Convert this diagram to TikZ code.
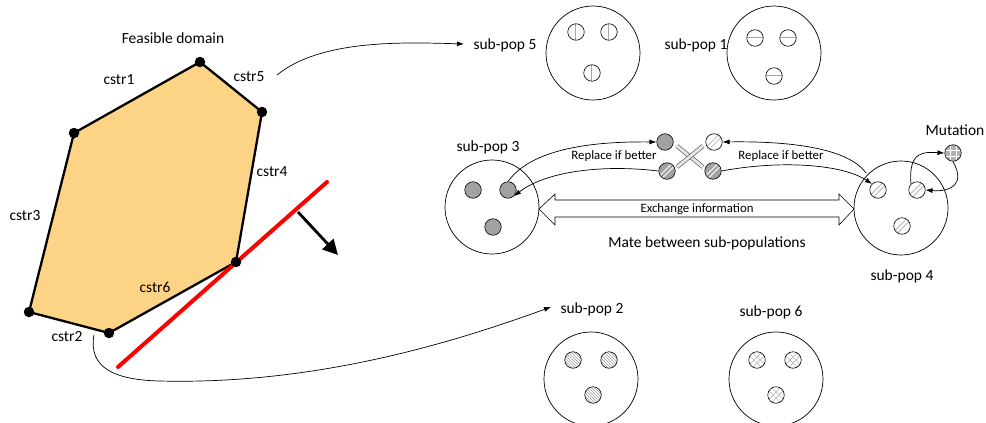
\documentclass[tikz,border=0pt]{standalone}
\usepackage{fontspec}
\setmainfont{Carlito}
\usetikzlibrary{arrows.meta,patterns}
\definecolor{domain}{HTML}{FDD385}
\tikzset{
  lbl/.style={font=\fontsize{15.5}{16}\selectfont, inner sep=0pt},
  small/.style={font=\fontsize{12.8}{13}\selectfont, inner sep=0pt},
  vtx/.style={circle, fill=black, minimum size=10.5pt, inner sep=0pt},
  pop/.style={circle, draw, line width=0.7pt, minimum size=#1, inner sep=0pt},
  pop/.default=94pt,
  ind/.style={circle, draw, line width=0.6pt, minimum size=16.5pt, inner sep=0pt},
  gfill/.style={fill=black!37},
  vbar/.style={path picture={\draw[gray!70, line width=1pt]
      ([xshift=-1pt]path picture bounding box.north) -- ([xshift=-1pt]path picture bounding box.south);}},
  hbar/.style={path picture={\draw[gray!70, line width=1pt]
      ([yshift=1pt]path picture bounding box.west) -- ([yshift=1pt]path picture bounding box.east);}},
  slash/.style={path picture={\foreach \o in {-2.5,2.5}
      \draw[#1, line width=1.1pt] ([xshift=\o]path picture bounding box.center) +(-10,10) -- +(10,-10);}},
  diamondx/.style={path picture={\foreach \o in {-3,3}{
      \draw[gray!55, line width=0.7pt] ([xshift=\o]path picture bounding box.center) +(-10,10) -- +(10,-10);
      \draw[gray!55, line width=0.7pt] ([xshift=\o]path picture bounding box.center) +(-10,-10) -- +(10,10);}}},
  grid/.style={fill=black!30, path picture={\foreach \o in {-3,3}{
      \draw[white, line width=0.7pt] ([xshift=\o]path picture bounding box.north) -- ([xshift=\o]path picture bounding box.south);
      \draw[white, line width=0.7pt] ([yshift=\o]path picture bounding box.west) -- ([yshift=\o]path picture bounding box.east);}}},
  conn/.style={line width=0.7pt, -{Latex[length=7pt,width=5pt]}},
  swap/.style={line width=0.6pt, draw=black!70, double=gray!20, double distance=3pt},
}
\begin{document}
\begin{tikzpicture}[x=1pt, y=-1pt]
\useasboundingbox (0,0) rectangle (986,423);

% ---------- feasible domain ----------
\coordinate (v1) at (200,62);
\coordinate (v2) at (262,112);
\coordinate (v3) at (236,262);
\coordinate (v4) at (109,333);
\coordinate (v5) at (29,312);
\coordinate (v6) at (74,133);
\filldraw[fill=domain, line width=2.3pt, line join=round]
  (v1) -- (v2) -- (v3) -- (v4) -- (v5) -- (v6) -- cycle;
\draw[red, line width=4pt, line cap=round] (118,367) -- (327,182);
\draw[line width=2.8pt, -{Triangle[length=15pt,width=15pt]}] (298,212) -- (338,255);
\foreach \v in {v1,v2,v3,v4,v5,v6} \node[vtx] at (\v) {};

\node[lbl] (fd) at (173,38) {Feasible domain};
\node[lbl] (c1) at (119,80) {cstr1};
\node[lbl] (c5) at (249,77) {cstr5};
\node[lbl] (c4) at (272,172) {cstr4};
\node[lbl] (c3) at (25,216) {cstr3};
\node[lbl] (c6) at (155,287) {cstr6};
\node[lbl] (c2) at (67,337) {cstr2};

% ---------- sub-populations ----------
\node[pop] (sp5) at (593,53) {};
\node[pop] (sp1) at (774,53) {};
\node[pop] (sp3) at (492,207) {};
\node[pop] (sp4) at (901,208) {};
\node[pop] (sp2) at (591,379) {};
\node[pop] (sp6) at (776,379) {};

\node[lbl] (l5) at (505,45) {sub-pop 5};
\node[lbl] (l1) at (696,45) {sub-pop 1};
\node[lbl] (l3) at (488,147) {sub-pop 3};
\node[lbl] (l4) at (902,276) {sub-pop 4};
\node[lbl] (l2) at (592,309) {sub-pop 2};
\node[lbl] (l6) at (771,312) {sub-pop 6};
\node[lbl] (lm) at (955,130) {Mutation};

% individuals
\node[ind, vbar] (a5) at (576,32) {};
\node[ind, vbar] (b5) at (609,32) {};
\node[ind, vbar] (c5i) at (592,73) {};
\node[ind, hbar] (a1) at (755,38) {};
\node[ind, hbar] (b1) at (788,38) {};
\node[ind, hbar] (c1i) at (774,76) {};
\node[ind, gfill] (a3) at (473,190) {};
\node[ind, gfill] (b3) at (508,190) {};
\node[ind, gfill] (c3i) at (493,227) {};
\node[ind, slash=gray!45] (a4) at (878,190) {};
\node[ind, slash=gray!45] (b4) at (917,190) {};
\node[ind, slash=gray!45] (c4i) at (902,226) {};
\node[ind, pattern=north west lines, pattern color=gray!80] (a2) at (573,360) {};
\node[ind, pattern=north west lines, pattern color=gray!80] (b2) at (609,360) {};
\node[ind, pattern=north west lines, pattern color=gray!80] (c2i) at (593,395) {};
\node[ind, diamondx] (a6) at (757,360) {};
\node[ind, diamondx] (b6) at (793,360) {};
\node[ind, diamondx] (c6i) at (776,395) {};
\node[ind, grid] (mut) at (953,153) {};

% mating pool
\node[ind, gfill] (m1) at (665,142) {};
\node[ind, slash=gray!35] (m2) at (714,142) {};
\node[ind, gfill, slash=white!85!gray] (m3) at (667,171) {};
\node[ind, gfill, slash=white!85!gray] (m4) at (713,171) {};
\draw[swap] (677,146) -- (703,167);
\draw[swap] (677,167) -- (703,146);

\node[small] (rl) at (614,156) {Replace if better};
\node[small] (rr) at (781,156) {Replace if better};

% ---------- exchange arrow ----------
\draw[line width=0.6pt, line join=miter]
  (539,209) -- (555,194) -- (555,200) -- (839,200) -- (839,194) -- (854,209)
  -- (839,225) -- (839,217) -- (555,217) -- (555,225) -- cycle;
\node[small] (ex) at (697,209) {Exchange information};
\node[lbl] (mate) at (707,243) {Mate between sub-populations};

% ---------- connectors ----------
\coordinate (t0) at (277,75);
\coordinate (t1) at (464,44);
\draw[conn] (t0) .. controls (320,40) and (400,42) .. (t1);
\coordinate (u0) at (94,335);
\coordinate (u1) at (160,381);
\coordinate (u2) at (551,307);
\draw[conn] (u0) .. controls (88,368) and (115,380) .. (u1)
  .. controls (320,385) and (460,340) .. (u2);

\draw[conn] (b3.north) .. controls (525,158) and (565,141) .. (m1.west);
\draw[conn] (m3.west) .. controls (600,164) and (545,172) .. (b3.south east);
\coordinate (s4) at (866,173);
\draw[conn] (s4) .. controls (848,148) and (790,141) .. (m2.east);
\draw[conn] (m4.east) .. controls (780,160) and (842,164) .. (a4.north west);
\draw[conn] (b4.north west) .. controls (908,150) and (925,152) .. (mut.west);
\draw[conn] (mut.south) .. controls (966,185) and (950,192) .. (b4.east);
\end{tikzpicture}
\end{document}
